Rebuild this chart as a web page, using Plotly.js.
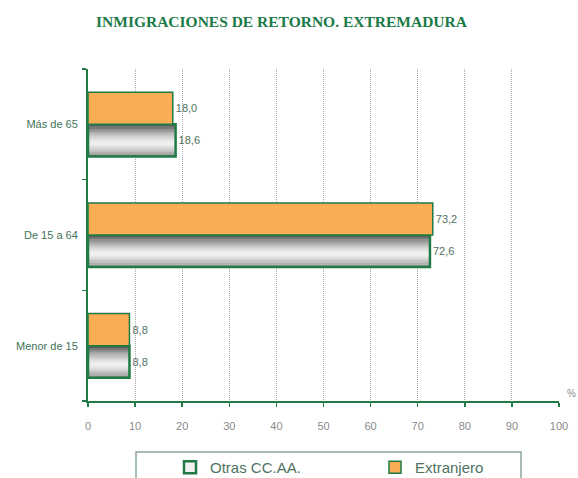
<!DOCTYPE html>
<html><head><meta charset="utf-8">
<script src="https://cdn.plot.ly/plotly-3.0.1.min.js"></script>
<style>html,body{margin:0;padding:0;background:#fff;}#chart{width:578px;height:478px;}</style>
</head><body><div id="chart"></div>
<script>
// Data
const categories = ['Menor de 15', 'De 15 a 64', 'Más de 65'];
const otrasCCAA = [8.8, 72.6, 18.6];
const extranjero = [8.8, 73.2, 18.0];
const xTicks = [0, 10, 20, 30, 40, 50, 60, 70, 80, 90, 100];
const seriesNames = ['Otras CC.AA.', 'Extranjero'];

const GREEN = '#1f7a45';
const ORANGE = '#f9ad55';
const HALF = 0.29;

const traces = [];
// gradient bands for "Otras CC.AA." bars (styling only, same data)
const nBands = 14;
for (let i = 0; i < nBands; i++) {
  const t = (i + 0.5) / nBands; // 0 bottom -> 1 top
  const d = Math.min(1, Math.abs(t - 0.42) / 0.55);
  const v = Math.round(255 - 170 * Math.pow(d, 1.4));
  traces.push({
    type: 'bar', orientation: 'h', y: categories, x: otrasCCAA,
    offset: -HALF + i * HALF / nBands, width: HALF / nBands + 0.002,
    marker: {color: `rgb(${v},${v},${v})`, line: {width: 0}},
    showlegend: false, hoverinfo: 'skip'
  });
}
// outline + labels for "Otras CC.AA."
traces.push({
  type: 'bar', orientation: 'h', y: categories, x: otrasCCAA, name: seriesNames[0],
  offset: -HALF, width: HALF,
  marker: {color: 'rgba(150,150,150,0.12)', line: {color: GREEN, width: 2.5}},
  text: otrasCCAA.map(v => v.toFixed(1).replace('.', ',')), textposition: 'outside',
  textfont: {family: 'Liberation Sans, Arial, sans-serif', size: 11, color: '#4f7262'},
  cliponaxis: false
});
traces.push({
  type: 'bar', orientation: 'h', y: categories, x: extranjero, name: seriesNames[1],
  offset: 0, width: HALF,
  marker: {color: ORANGE, line: {color: GREEN, width: 1.5}},
  text: extranjero.map(v => v.toFixed(1).replace('.', ',')), textposition: 'outside',
  textfont: {family: 'Liberation Sans, Arial, sans-serif', size: 11, color: '#4f7262'},
  cliponaxis: false
});

const layout = {
  width: 578, height: 478,
  margin: {l: 88, r: 19, t: 69, b: 77, autoexpand: false},
  paper_bgcolor: '#fff', plot_bgcolor: '#fff',
  barmode: 'overlay',
  separators: ',.',
  font: {family: 'Liberation Sans, Arial, sans-serif', size: 11, color: '#808080'},
  title: {
    text: 'INMIGRACIONES DE RETORNO. EXTREMADURA',
    font: {family: 'Liberation Serif, Times New Roman, serif', size: 15.5, color: '#1a7a48', weight: 'bold'},
    x: 0.487, xanchor: 'center', y: 1 - 22 / 478, yanchor: 'middle'
  },
  xaxis: {
    range: [0, 100], tickvals: xTicks, ticktext: xTicks.map(String),
    showline: true, linecolor: GREEN, linewidth: 2,
    ticks: 'outside', ticklen: 4, tickcolor: GREEN, tickwidth: 1.5,
    ticklabelstandoff: 10,
    showgrid: true, gridcolor: '#a8a8a8', griddash: '1px,1px', gridwidth: 1,
    zeroline: false, fixedrange: true,
    tickfont: {size: 11, color: '#8a8a8a'}
  },
  yaxis: {
    type: 'category', categoryorder: 'array', categoryarray: categories,
    range: [-0.5, 2.5],
    showline: true, linecolor: GREEN, linewidth: 2,
    ticks: 'outside', tickson: 'boundaries', ticklen: 4, tickcolor: GREEN, tickwidth: 1.5,
    ticklabelstandoff: 6,
    showgrid: false, zeroline: false, fixedrange: true,
    tickfont: {size: 11, color: '#3f7358'}
  },
  showlegend: true,
  legend: {
    orientation: 'h', x: (170 - 88) / 471, xanchor: 'left',
    y: (401 - 451) / 332, yanchor: 'top',
    entrywidth: 160, entrywidthmode: 'pixels',
    font: {size: 15, color: '#4f7262'},
    bgcolor: 'rgba(0,0,0,0)', borderwidth: 0
  },
  shapes: [{
    type: 'rect', xref: 'paper', yref: 'paper',
    x0: (136 - 88) / 471, x1: (521 - 88) / 471,
    y0: (401 - 490) / 332, y1: (401 - 452) / 332,
    line: {color: '#8aa898', width: 1.5}, fillcolor: 'rgba(0,0,0,0)'
  }],
  annotations: [{
    text: '%', xref: 'paper', yref: 'paper', x: 1 + (571 - 559) / 471, y: (401 - 393) / 332,
    showarrow: false, font: {size: 10, color: '#8a8a8a'}, xanchor: 'center', yanchor: 'middle'
  }]
};

Plotly.newPlot('chart', traces, layout, {displayModeBar: false, staticPlot: true});
</script></body></html>
